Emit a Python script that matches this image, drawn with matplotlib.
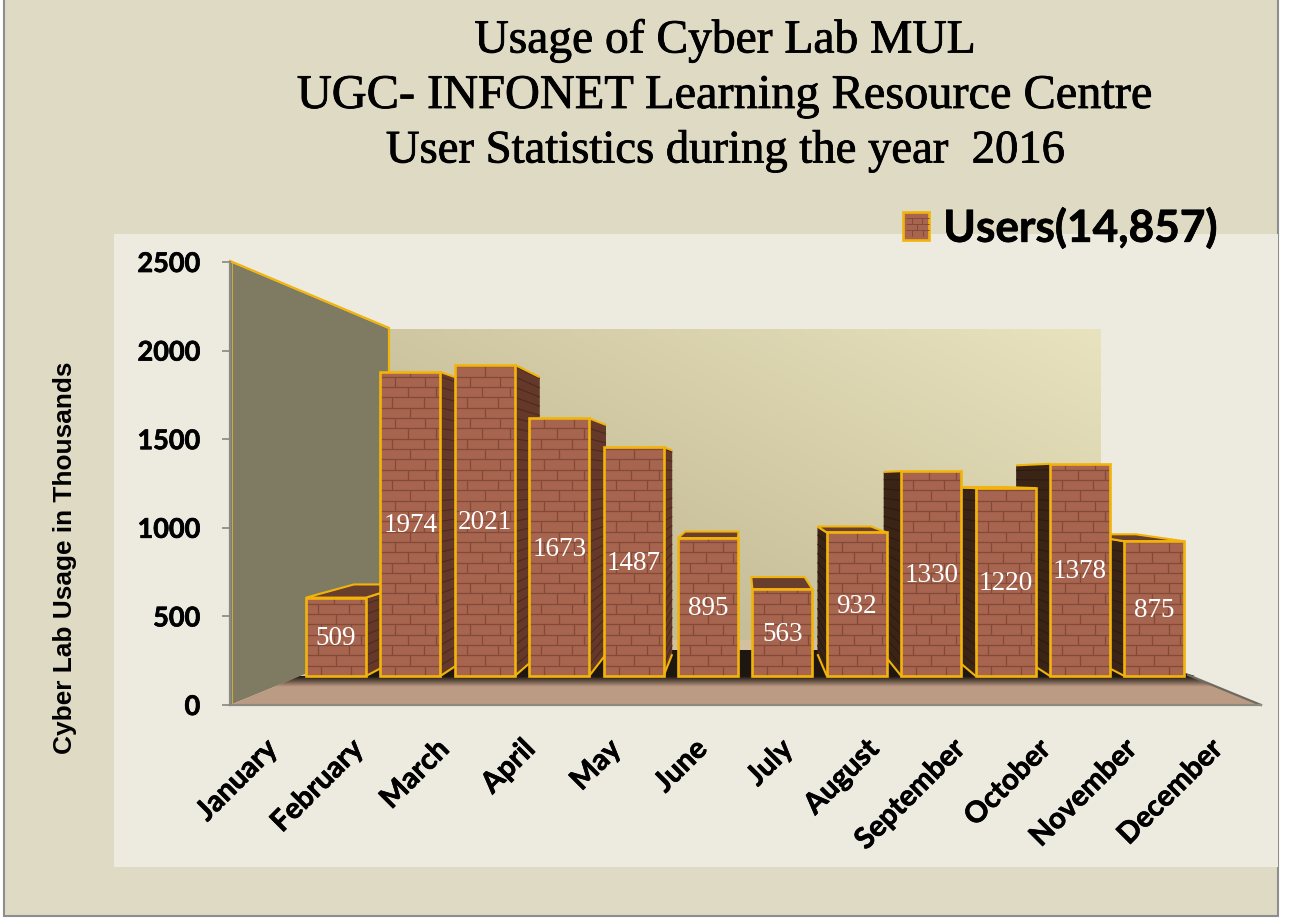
import numpy as np
import matplotlib
matplotlib.use("Agg")
import matplotlib.pyplot as plt
import matplotlib.patheffects as pe
from matplotlib.patches import Polygon, Rectangle, Patch
from matplotlib.collections import LineCollection
from matplotlib.transforms import ScaledTranslation

months = ["January", "February", "March", "April", "May", "June", "July",
          "August", "September", "October", "November", "December"]
users = [509, 1974, 2021, 1673, 1487, 895, 563, 932, 1330, 1220, 1378, 875]
y_ticks = [0, 500, 1000, 1500, 2000, 2500]
title_lines = ["Usage of Cyber Lab MUL",
               "UGC- INFONET Learning Resource Centre",
               "User Statistics during the year  2016"]
legend_label = "Users(14,857)"
y_label = "Cyber Lab Usage in Thousands"

W, H = 1290, 918
GOLD = "#F2B40A"
FACE = "#A7644E"
BRICK = "#824B39"

fig = plt.figure(figsize=(W / 100, H / 100), dpi=100, facecolor="white")
heavy = [pe.withStroke(linewidth=0.5, foreground="black")]

# ---------- background layer, in pixel coordinates
bg = fig.add_axes([0, 0, 1, 1], zorder=0)
bg.set_xlim(0, W); bg.set_ylim(H, 0); bg.axis("off")
bg.add_patch(Rectangle((4, -6), 1274, 922, fc="#DEDAC3", ec="#8E8E8E", lw=1.5))
bg.add_patch(Rectangle((114, 234), 1164, 633, fc="#EDEBE0", ec="none"))
# back wall gradient
gx, gy = np.meshgrid(np.linspace(0, 1, 32), np.linspace(0, 1, 32))
g = np.clip(0.7 * gx + 0.6 * (1 - gy) - 0.3, 0, 1)[..., None]
c0, c1 = np.array([196, 188, 150]) / 255, np.array([232, 226, 190]) / 255
bg.imshow(c0 + (c1 - c0) * g, extent=(389, 1101, 640, 329), origin="upper",
          aspect="auto", interpolation="bilinear", zorder=1)
# left wall
bg.add_patch(Polygon([(230, 262), (389, 329), (389, 640), (230, 705)], fc="#7F7B62", ec="none", zorder=2))
bg.plot([230, 389, 389], [261, 328, 372], color=GOLD, lw=1.6, zorder=3)
bg.plot([231.5, 231.5], [263, 704], color="#C9A84A", lw=0.8, zorder=3)
# floor
floor = Polygon([(230, 705), (300, 676), (1190, 676), (1261, 705)], fc="#BC9B84", ec="none", zorder=2)
bg.add_patch(floor)
bg.add_patch(Polygon([(300, 676), (389, 640), (1101, 640), (1190, 676)], fc="#D2C0A0", ec="none", zorder=2))
bg.add_patch(Polygon([(340, 676), (378, 650), (1110, 650), (1195, 676)], fc="#1E1610", ec="none", zorder=2))
sh = np.linspace(0, 1, 16)[:, None, None]
sh_rgb = np.array([30, 22, 16]) / 255 * (1 - sh) + np.array([188, 155, 132]) / 255 * sh
im = bg.imshow(sh_rgb, extent=(250, 1240, 687, 676), aspect="auto", interpolation="bilinear", zorder=2.5)
im.set_clip_path(floor)
bg.set_xlim(0, W); bg.set_ylim(H, 0)
bg.plot([1188, 1261], [675, 705], color="#6E6A62", lw=1.6, zorder=2.6)

# ---------- bars layer: category index / value, mapped onto the front plane
PX_PER_CAT, PX_PER_VAL = 74.4, 0.154
X0_PX, Y0_PX = 336, 676
ax = fig.add_axes([0, 0, 1, 1], zorder=2, facecolor="none")
ax.set_xlim((0 - X0_PX) / PX_PER_CAT, (W - X0_PX) / PX_PER_CAT)
ax.set_ylim((Y0_PX - H) / PX_PER_VAL, Y0_PX / PX_PER_VAL)
ax.axis("off")

VANISH = np.array([5.457, 1286.0])
DEPTH = 0.11
BAR_W = 0.806


def back(p):
    p = np.asarray(p, float)
    return p + DEPTH * (VANISH - p)


order = sorted(range(12), key=lambda k: -abs(k - VANISH[0]))
for rank, k in enumerate(order):
    v = users[k]
    l, r = k - BAR_W / 2, k + BAR_W / 2
    left_half = k < VANISH[0]
    side_x = r if left_half else l
    z = 2 + 0.01 * rank
    side_visible = abs(side_x - VANISH[0]) > 0.2 and ((left_half and r < VANISH[0]) or (not left_half and l > VANISH[0]))
    side_col = "#65392A" if left_half else "#3A2416"
    side_line = "#4C2A1D" if left_half else "#2E1B10"
    if side_visible:
        a, b = (side_x, 0), (side_x, v)
        ax.add_patch(Polygon([a, b, back(b), back(a)], fc=side_col, ec="none", zorder=z))
        segs = [[(side_x, y), back((side_x, y))] for y in np.arange(67, v, 67)]
        ax.add_collection(LineCollection(segs, colors=side_line, linewidths=0.8, zorder=z + 0.001))
        ax.add_collection(LineCollection([[a, back(a)], [b, back(b)]], colors=GOLD, linewidths=1.5, zorder=z + 0.002))
    if v < VANISH[1]:
        tl, tr = (l, v), (r, v)
        ax.add_patch(Polygon([tl, tr, back(tr), back(tl)], fc="#6A3E2C", ec=GOLD, lw=1.5, zorder=z + 0.003))

ax.bar(range(12), users, width=BAR_W, color=FACE, edgecolor="none", zorder=5)

# brick joints on the fronts
joints = [(0.25, 0.75), (0.5,), (0.2, 0.72), (0.46, 0.92)]
segs = []
row = 67.0
for k, v in enumerate(users):
    l = k - BAR_W / 2
    n = int(v // row)
    for j in range(n + 1):
        y0 = j * row
        y1 = min((j + 1) * row, v)
        if j > 0:
            segs.append([(l, y0), (l + BAR_W, y0)])
        for f in joints[j % 4]:
            segs.append([(l + f * BAR_W, y0), (l + f * BAR_W, y1)])
ax.add_collection(LineCollection(segs, colors=BRICK, linewidths=0.9, zorder=6))
ax.bar(range(12), users, width=BAR_W, color="none", edgecolor=GOLD, linewidth=1.9, zorder=7)

for k, v in enumerate(users):
    ax.text(k, v / 2 - 12, str(v), color="white", ha="center", va="center",
            family="Liberation Serif", fontsize=19.5, zorder=8)

# ---------- value / category axes
px_l, px_r, px_t, px_b = 230, 1261, 262, 705
ax2 = fig.add_axes([px_l / W, 1 - px_b / H, (px_r - px_l) / W, (px_b - px_t) / H],
                   zorder=1, facecolor="none")
ax2.set_xlim(-0.5, 11.5)
ax2.set_ylim(0, 2500)
ax2.set_yticks(y_ticks)
ax2.set_xticks(range(12))
ax2.tick_params(axis="x", length=0, pad=20)
ax2.tick_params(axis="y", length=6, width=1.2, color="#868686", pad=15.5)
ax2.set_xticklabels(months, rotation=45, ha="right", rotation_mode="anchor",
                    family="Lato", fontweight="bold", fontsize=21)
shift = ScaledTranslation(-9 / 100, -3 / 100, fig.dpi_scale_trans)
for tick in ax2.xaxis.get_major_ticks():
    tick.label1.set_transform(tick.label1.get_transform() + shift)
    tick.label1.set_path_effects(heavy)
for lab in ax2.get_yticklabels():
    lab.set_family("Lato"); lab.set_fontweight("bold"); lab.set_fontsize(19.5)
    lab.set_path_effects(heavy)
for s in ("top", "right"):
    ax2.spines[s].set_visible(False)
ax2.spines["left"].set_color("#8A8A80"); ax2.spines["left"].set_linewidth(1.6)
ax2.spines["bottom"].set_color("#8A8A80"); ax2.spines["bottom"].set_linewidth(1.6)

fig.text(65 / W, 1 - 558 / H, y_label, rotation=90, ha="center", va="center",
         family="Liberation Sans", fontweight="bold", fontsize=18.9, zorder=10)

for line, yc, fs in zip(title_lines, (41, 96, 151), (34.2, 34.8, 33.6)):
    ttl = fig.text(725 / W, 1 - yc / H, line, ha="center", va="center",
                   family="Liberation Serif", fontsize=fs, zorder=10)
    ttl.set_path_effects([pe.withStroke(linewidth=0.6, foreground="black")])

# ---------- legend
leg = fig.legend(handles=[Patch(fc=FACE, ec=GOLD, lw=1.9, label=legend_label)],
                 loc="center left", bbox_to_anchor=(903 / W, 1 - 228 / H), frameon=False,
                 prop={"family": "Lato", "weight": "bold", "size": 31.8},
                 handlelength=0.59, handleheight=0.59, handletextpad=0.32, borderpad=0, borderaxespad=0)
leg.set_zorder(11)
for t in leg.get_texts():
    t.set_path_effects(heavy)
# brick joints on the legend swatch
sw = []
for yy in (218, 224, 230):
    sw.append([(906 / W, 1 - yy / H), (929 / W, 1 - yy / H)])
for xx, y0, y1 in ((912, 218, 224), (922, 218, 224), (917, 224, 230), (912, 230, 236), (923, 230, 236)):
    sw.append([(xx / W, 1 - y0 / H), (xx / W, 1 - y1 / H)])
swl = LineCollection(sw, colors=BRICK, linewidths=0.7, transform=fig.transFigure, zorder=12)
fig.add_artist(swl)

fig.savefig("out.png", dpi=100)
